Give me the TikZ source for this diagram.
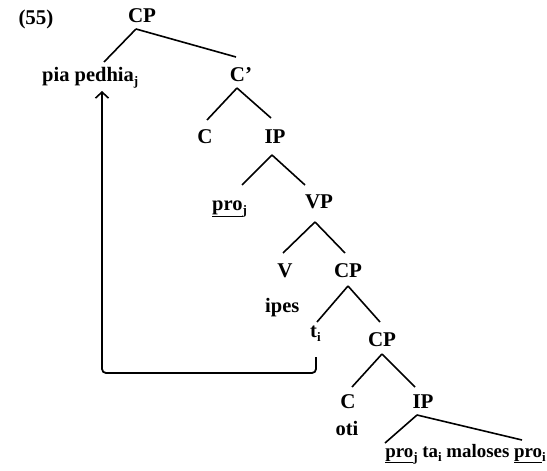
\documentclass[tikz,border=0pt]{standalone}
\usepackage{fontspec}
\setmainfont{Liberation Serif}
\usetikzlibrary{arrows.meta}
\begin{document}
\begin{tikzpicture}[x=1pt,y=-1pt,
  lab/.style={font=\bfseries\fontsize{21}{23}\selectfont, inner sep=0pt, anchor=base},
  wd/.style={font=\bfseries\fontsize{20.5}{22}\selectfont, inner sep=0pt, anchor=base west},
  branch/.style={line width=1.6pt},
  move/.style={line width=1.8pt, rounded corners=4pt}]
\useasboundingbox (0,0) rectangle (547,471);
\newcommand{\ix}[1]{\raisebox{-0.22em}{\fontsize{13}{13}\selectfont #1}}
\newcommand{\ul}[1]{\underline{#1}}
% labels
\node[lab] (ex)   at (36,24)  {(55)};
\node[lab] (cp1)  at (142,23) {CP};
\node[wd]  (wh)   at (42,81)  {pia pedhia\ix{j}};
\node[lab] (cbar) at (241,81) {C'};
\node[lab] (c1)   at (205,143) {C};
\node[lab] (ip1)  at (275,143) {IP};
\node[wd]  (pro1) at (212,210) {\ul{pro}\ix{j}};
\node[lab] (vp)   at (319,208) {VP};
\node[lab] (v)    at (285,277) {V};
\node[lab] (cp2)  at (348,277) {CP};
\node[wd]  (ipes) at (265,312) {ipes};
\node[wd]  (tr)   at (310,337) {t\ix{i}};
\node[lab] (cp3)  at (382,346) {CP};
\node[lab] (c2)   at (348,408) {C};
\node[lab] (ip2)  at (423,408) {IP};
\node[wd, anchor=base] (oti) at (347,435) {oti};
\node[wd, anchor=base east, font=\bfseries\fontsize{18.9}{20}\selectfont] (emb) at (546,457)
  {\ul{pro}\ix{j} ta\ix{i} maloses \ul{pro}\ix{i}};
% branches
\coordinate (b1) at (136,29);
\draw[branch] (b1) -- (104,62);
\draw[branch] (b1) -- (236,57);
\coordinate (b2) at (237,88);
\draw[branch] (b2) -- (207,120);
\draw[branch] (b2) -- (271,118);
\coordinate (b3) at (272,155);
\draw[branch] (b3) -- (242,185);
\draw[branch] (b3) -- (305,185);
\coordinate (b4) at (315,222);
\draw[branch] (b4) -- (283,253);
\draw[branch] (b4) -- (345,253);
\coordinate (b5) at (348,286);
\draw[branch] (b5) -- (317,322);
\draw[branch] (b5) -- (380,322);
\coordinate (b6) at (382,354);
\draw[branch] (b6) -- (352,387);
\draw[branch] (b6) -- (415,387);
\coordinate (b7) at (417,415);
\draw[branch] (b7) -- (385,443);
\draw[branch] (b7) -- (522,440);
% movement arrow from the trace back to the moved phrase
\coordinate (ta) at (316,357);
\coordinate (hd) at (102,91);
\draw[move,-{Straight Barb[length=6pt,width=13pt,line width=1.6pt]}]
  (ta) -- (ta |- 0,373) -- (hd |- 0,373) -- (hd);
\end{tikzpicture}
\end{document}
